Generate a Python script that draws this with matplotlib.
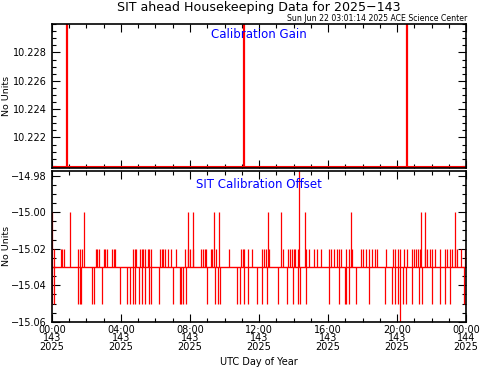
import numpy as np
import matplotlib
matplotlib.use("Agg")
import matplotlib.pyplot as plt
from matplotlib.ticker import MultipleLocator, FixedLocator, FuncFormatter

plt.rcParams['font.family'] = ['DejaVu Sans']

# Calibration gain: flat baseline, jumps off the top at these hours
gain_base = 10.2199
gain_jump_hours = [0.87, 11.13, 20.58]
gain_jump_value = 10.25
gain_ticks = [10.222, 10.224, 10.226, 10.228]

# Calibration offset: baseline plus single-sample excursions (hours of day 143)
offset_base = -15.03
up_m1502 = [0.12, 0.5, 0.6, 0.7, 1.5, 1.6, 1.75, 2.55, 2.62, 2.7, 3.0, 3.1, 3.2, 3.5, 3.58, 3.65,
            4.7, 4.8, 4.87, 5.1, 5.2, 5.3, 5.4, 5.56, 5.65, 5.74, 6.26, 6.35, 6.45, 6.55, 6.72, 6.9,
            7.19, 7.71, 7.9, 8.0, 8.17, 8.64, 8.75, 8.85, 8.93, 9.2, 9.3, 9.5, 10.26, 10.96, 11.05,
            11.13, 11.36, 11.6, 12.2, 12.3, 12.4, 12.58, 13.4, 13.7, 13.8, 13.9, 14.0, 14.1, 14.26,
            14.72, 14.9, 15.2, 15.36, 15.6, 16.06, 16.2, 16.35, 16.5, 16.62, 16.75, 17.04, 17.2,
            17.4, 17.9, 18.05, 18.2, 18.4, 18.55, 18.7, 18.84, 19.36, 19.77, 19.9, 20.05, 20.17,
            20.4, 20.58, 20.87, 21.0, 21.1, 21.2, 21.33, 21.62, 21.75, 21.9, 22.03, 22.2, 22.5,
            22.78, 22.9, 23.05, 23.2, 23.35, 23.48, 23.7, 23.94]
up_m1500 = [0.02, 1.04, 1.86, 7.88, 8.17, 9.39, 9.68, 12.52, 13.28, 14.67, 17.33, 21.39, 21.62, 23.36]
up_top = [14.3]
down_m1505 = [0.03, 0.1, 1.5, 1.6, 1.7, 2.3, 2.45, 2.9, 3.95, 4.35, 4.5, 4.7, 4.8, 5.04, 5.2, 5.4,
              5.62, 5.74, 6.2, 7.0, 7.4, 7.5, 7.6, 7.77, 9.0, 9.45, 9.6, 9.74, 10.72, 10.9, 11.13,
              11.36, 11.88, 12.17, 12.46, 13.1, 13.62, 13.97, 14.26, 14.38, 14.72, 16.06, 16.64,
              16.99, 17.04, 17.22, 17.62, 18.38, 19.3, 19.7, 19.88, 20.06, 20.35, 20.52, 20.87,
              21.28, 21.45, 22.03, 22.5, 22.78, 23.07, 23.9, 23.97]
down_bottom = [20.17]

xtick_hours = [0, 4, 8, 12, 16, 20, 24]
xtick_labels = ["00:00\n143\n2025", "04:00\n143\n2025", "08:00\n143\n2025", "12:00\n143\n2025",
                "16:00\n143\n2025", "20:00\n143\n2025", "00:00\n144\n2025"]

fig = plt.figure(figsize=(4.81, 3.70), dpi=100)
ax1 = fig.add_axes([0.108, 0.546, 0.861, 0.389])
ax2 = fig.add_axes([0.108, 0.130, 0.861, 0.408])

red = '#ff0000'
blue = '#0000ff'
fs = 7.0

# top panel
ax1.plot([0, 24], [gain_base, gain_base], color=red, lw=1.5)
ax1.vlines(gain_jump_hours, gain_base, gain_jump_value, color=red, lw=1.6)
ax1.set_ylim(10.21985, 10.2300)
ax1.yaxis.set_major_locator(FixedLocator(gain_ticks))
ax1.yaxis.set_minor_locator(MultipleLocator(0.0005))
ax1.yaxis.set_major_formatter(FuncFormatter(lambda v, p: "%.3f" % v))
ax1.text(0.5, 0.93, "Calibration Gain", transform=ax1.transAxes, color=blue,
         ha='center', va='center', fontsize=8.5)

# bottom panel
ax2.plot([0, 24], [offset_base, offset_base], color=red, lw=1.0)
ax2.vlines(up_m1502, offset_base, -15.02, color=red, lw=0.9)
ax2.vlines(up_m1500, offset_base, -15.00, color=red, lw=0.9)
ax2.vlines(up_top, offset_base, -14.96, color=red, lw=0.9)
ax2.vlines(down_m1505, offset_base, -15.05, color=red, lw=0.9)
ax2.vlines(down_bottom, offset_base, -15.07, color=red, lw=0.9)
ax2.set_ylim(-15.06, -14.9775)
ax2.yaxis.set_major_locator(MultipleLocator(0.02))
ax2.yaxis.set_minor_locator(MultipleLocator(0.005))
ax2.yaxis.set_major_formatter(FuncFormatter(lambda v, p: ("%.2f" % v).replace('-', '\u2212')))
ax2.text(0.5, 0.91, "SIT Calibration Offset", transform=ax2.transAxes, color=blue,
         ha='center', va='center', fontsize=8.5)

for ax in (ax1, ax2):
    ax.set_xlim(0, 24)
    ax.set_xticks(xtick_hours)
    ax.xaxis.set_minor_locator(MultipleLocator(1))
    ax.tick_params(which='both', direction='in', top=True, right=True, labelsize=fs, width=0.8)
    ax.tick_params(which='major', length=6)
    ax.tick_params(which='minor', length=3)
    ax.tick_params(axis='x', pad=2)
    ax.set_ylabel("No Units", fontsize=6.8)
    ax.yaxis.set_label_coords(-0.1, 0.5)
    for s in ax.spines.values():
        s.set_linewidth(1.2)

ax1.set_xticklabels([])
ax2.set_xticklabels(xtick_labels, fontsize=fs, linespacing=0.85)

fig.text(0.538, 1 - 362 / 370, "UTC Day of Year", ha='center', va='center', fontsize=fs)
fig.text(0.539, 0.997, "SIT ahead Housekeeping Data for 2025\u2212143", ha='center', va='top', fontsize=9.1)
fig.text(0.972, 0.939, "Sun Jun 22 03:01:14 2025 ACE Science Center", ha='right', va='bottom', fontsize=5.6)

fig.savefig("out.png", dpi=100)
